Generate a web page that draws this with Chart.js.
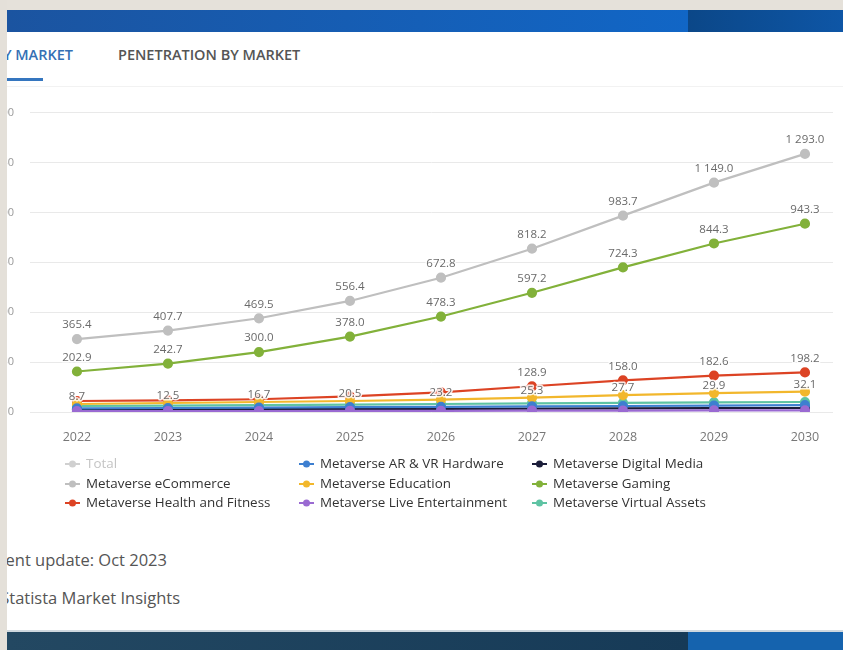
<!DOCTYPE html>
<html>
<head>
<meta charset="utf-8">
<script src="https://cdn.jsdelivr.net/npm/chart.js@4.4.1/dist/chart.umd.min.js"></script>
<style>
  body { margin: 0; width: 843px; height: 650px; overflow: hidden; position: relative; background: #fff; font-family: 'Open Sans', sans-serif; }
  .abs { position: absolute; }
  #topStrip { left: 0; top: 0; width: 843px; height: 10px; background: #e5e1da; }
  #hdrL { left: 7px; top: 10px; width: 681px; height: 22px; background: linear-gradient(90deg, #1b54a0, #1166c6); }
  #hdrR { left: 688px; top: 10px; width: 155px; height: 22px; background: linear-gradient(90deg, #0b4788, #0e56a6); }
  .tab { top: 45px; font-size: 14.5px; line-height: 20px; white-space: nowrap; }
  #tabActive { right: 770px; color: #3570b4; font-weight: 600; }
  #tabOther { left: 118px; color: #555; font-weight: 600; }
  #tabLine { left: 7px; top: 78px; width: 36px; height: 3px; background: #3576bf; }
  #sep { left: 7px; top: 86px; width: 836px; height: 1px; background: #f2f2f2; }
  .foot { font-size: 16.5px; line-height: 22px; color: #555; white-space: nowrap; }
  #foot1 { right: 676px; top: 549px; }
  #foot2 { right: 663px; top: 587px; }
  #botLine { left: 7px; top: 630px; width: 836px; height: 2px; background: #cfd8df; }
  #botL { left: 7px; top: 632px; width: 681px; height: 18px; background: linear-gradient(90deg, #234862, #163a57); }
  #botR { left: 688px; top: 632px; width: 155px; height: 18px; background: #1563ae; }
  #leftStrip { left: 0; top: 0; width: 7px; height: 650px; background: #e4e0d9; z-index: 5; }
  #c { position: absolute; left: -60px; top: 90px; }
</style>
</head>
<body>
<div class="abs" id="topStrip"></div>
<div class="abs" id="hdrL"></div>
<div class="abs" id="hdrR"></div>
<div class="abs tab" id="tabActive">REVENUE BY MARKET</div>
<div class="abs tab" id="tabOther">PENETRATION BY MARKET</div>
<div class="abs" id="tabLine"></div>
<div class="abs" id="sep"></div>
<canvas id="c" width="903" height="440"></canvas>
<div class="abs foot" id="foot1">Most recent update: Oct 2023</div>
<div class="abs foot" id="foot2">Source: Statista Market Insights</div>
<div class="abs" id="botLine"></div>
<div class="abs" id="botL"></div>
<div class="abs" id="botR"></div>
<div class="abs" id="leftStrip"></div>
<script>
// Chart data
const years = [2022, 2023, 2024, 2025, 2026, 2027, 2028, 2029, 2030];
const yTicks = [0, 250, 500, 750, 1000, 1250, 1500];

const totalValues = [];
const arvrValues = [18, 20, 22, 24, 26, 28, 30, 32, 34];
const digitalMediaValues = [12, 13, 14, 15, 16, 17, 18, 19, 20];
const ecommerceValues = [365.4, 407.7, 469.5, 556.4, 672.8, 818.2, 983.7, 1149.0, 1293.0];
const educationValues = [40, 45, 50, 55, 62, 72, 85, 95, 102];
const gamingValues = [202.9, 242.7, 300.0, 378.0, 478.3, 597.2, 724.3, 844.3, 943.3];
const healthValues = [55, 58, 64, 78, 98, 128.9, 158.0, 182.6, 198.2];
const liveEntValues = [4, 5, 5, 6, 6, 7, 7, 8, 8];
const virtualAssetsValues = [30, 32, 34, 37, 40, 43, 46, 48, 50];

// printed point labels
const educationLabels = ["8.7", "12.5", "16.7", "20.5", "23.2", "25.3", "27.7", "29.9", "32.1"];
const healthLabeledFrom = 2027;

const fmt = (v, d = 1) => {
  const [a, b] = v.toFixed(d).split(".");
  const int = a.replace(/\B(?=(\d{3})+(?!\d))/g, " ");
  return b ? int + "." + b : int;
};

// legend order (row by row, 3 columns)
const series = [
  {name: "Total", color: "#bdbdbd", values: totalValues, hidden: true},
  {name: "Metaverse AR & VR Hardware", color: "#3d7fd0", values: arvrValues},
  {name: "Metaverse Digital Media", color: "#1b1d3a", values: digitalMediaValues},
  {name: "Metaverse eCommerce", color: "#bfbfbf", values: ecommerceValues, labels: ecommerceValues.map(v => fmt(v)), off: 14},
  {name: "Metaverse Education", color: "#f2b72c", values: educationValues, labels: educationLabels, off: 7},
  {name: "Metaverse Gaming", color: "#82b13a", values: gamingValues, labels: gamingValues.map(v => fmt(v)), off: 14},
  {name: "Metaverse Health and Fitness", color: "#dc4324", values: healthValues, labels: healthValues.map((v, i) => years[i] >= healthLabeledFrom ? fmt(v) : null), off: 14},
  {name: "Metaverse Live Entertainment", color: "#9a6ad2", values: liveEntValues, order: -1},
  {name: "Metaverse Virtual Assets", color: "#5ec3a3", values: virtualAssetsValues},
];

// Draws the value labels above points
const labelPlugin = {
  id: "pointLabels",
  afterDatasetsDraw(chart) {
    const ctx = chart.ctx;
    ctx.save();
    ctx.font = "11.5px 'Open Sans', sans-serif";
    ctx.textAlign = "center";
    ctx.textBaseline = "middle";
    ctx.lineJoin = "round";
    chart.data.datasets.forEach((ds, di) => {
      if (!ds.pointText) return;
      chart.getDatasetMeta(di).data.forEach((pt, i) => {
        const t = ds.pointText[i];
        if (!t) return;
        const y = pt.y - ds.textOffset;
        ctx.strokeStyle = "rgba(255,255,255,0.85)"; ctx.lineWidth = 3;
        ctx.strokeText(t, pt.x, y);
        ctx.fillStyle = "#6a6a6a";
        ctx.fillText(t, pt.x, y);
      });
    });
    ctx.restore();
  }
};

// Legend in a 3 column grid
const legendPlugin = {
  id: "gridLegend",
  afterDraw(chart) {
    const ctx = chart.ctx;
    const cols = [146, 380, 613], rows = [374, 394, 413];
    ctx.save();
    ctx.font = "13.4px 'Open Sans', sans-serif";
    ctx.textBaseline = "middle";
    ctx.textAlign = "left";
    chart.data.datasets.forEach((ds, i) => {
      const x = cols[i % 3], y = rows[Math.floor(i / 3)];
      const c = ds.hidden ? "#d0d0d0" : ds.borderColor;
      ctx.strokeStyle = c; ctx.lineWidth = 2;
      ctx.beginPath(); ctx.moveTo(x - 21, y); ctx.lineTo(x - 6, y); ctx.stroke();
      ctx.fillStyle = c;
      ctx.beginPath(); ctx.arc(x - 13.5, y, 3.5, 0, Math.PI * 2); ctx.fill();
      ctx.fillStyle = ds.hidden ? "#c4c4c4" : "#333";
      ctx.fillText(ds.label, x, y);
    });
    ctx.restore();
  }
};

Chart.defaults.font.family = "'Open Sans', sans-serif";

const chart = new Chart(document.getElementById("c"), {
  type: "line",
  data: {
    datasets: series.map(s => ({
      label: s.name,
      data: s.values.map((v, i) => ({x: years[i], y: v})),
      hidden: !!s.hidden,
      order: s.order || 0,
      borderColor: s.color, backgroundColor: s.color,
      borderWidth: 2.2, pointRadius: 4, pointHoverRadius: 4, tension: 0,
      pointText: s.labels || null, textOffset: s.off || 0,
    })),
  },
  options: {
    responsive: false, animation: false,
    layout: {padding: {top: 22, right: 10, bottom: 88, left: 0}},
    plugins: {legend: {display: false}, tooltip: {enabled: false}},
    scales: {
      x: {
        type: "linear", min: 2021.484, max: 2030.308,
        afterBuildTicks: s => { s.ticks = years.map(v => ({value: v})); },
        afterFit: s => { s.height = 30; },
        grid: {display: false}, border: {display: false},
        ticks: {padding: 10, color: "#777", font: {size: 12.5}, autoSkip: false, maxRotation: 0, callback: v => String(v)},
      },
      y: {
        min: 0, max: 1500,
        afterBuildTicks: s => { s.ticks = yTicks.map(v => ({value: v})); },
        afterFit: s => { s.width = 90; },
        grid: {color: "#e9e9e9", drawTicks: false}, border: {display: false},
        ticks: {padding: 16, color: "#999", font: {size: 11}, callback: v => fmt(v, 0)},
      },
    },
  },
  plugins: [labelPlugin, legendPlugin],
});
</script>
</body>
</html>
